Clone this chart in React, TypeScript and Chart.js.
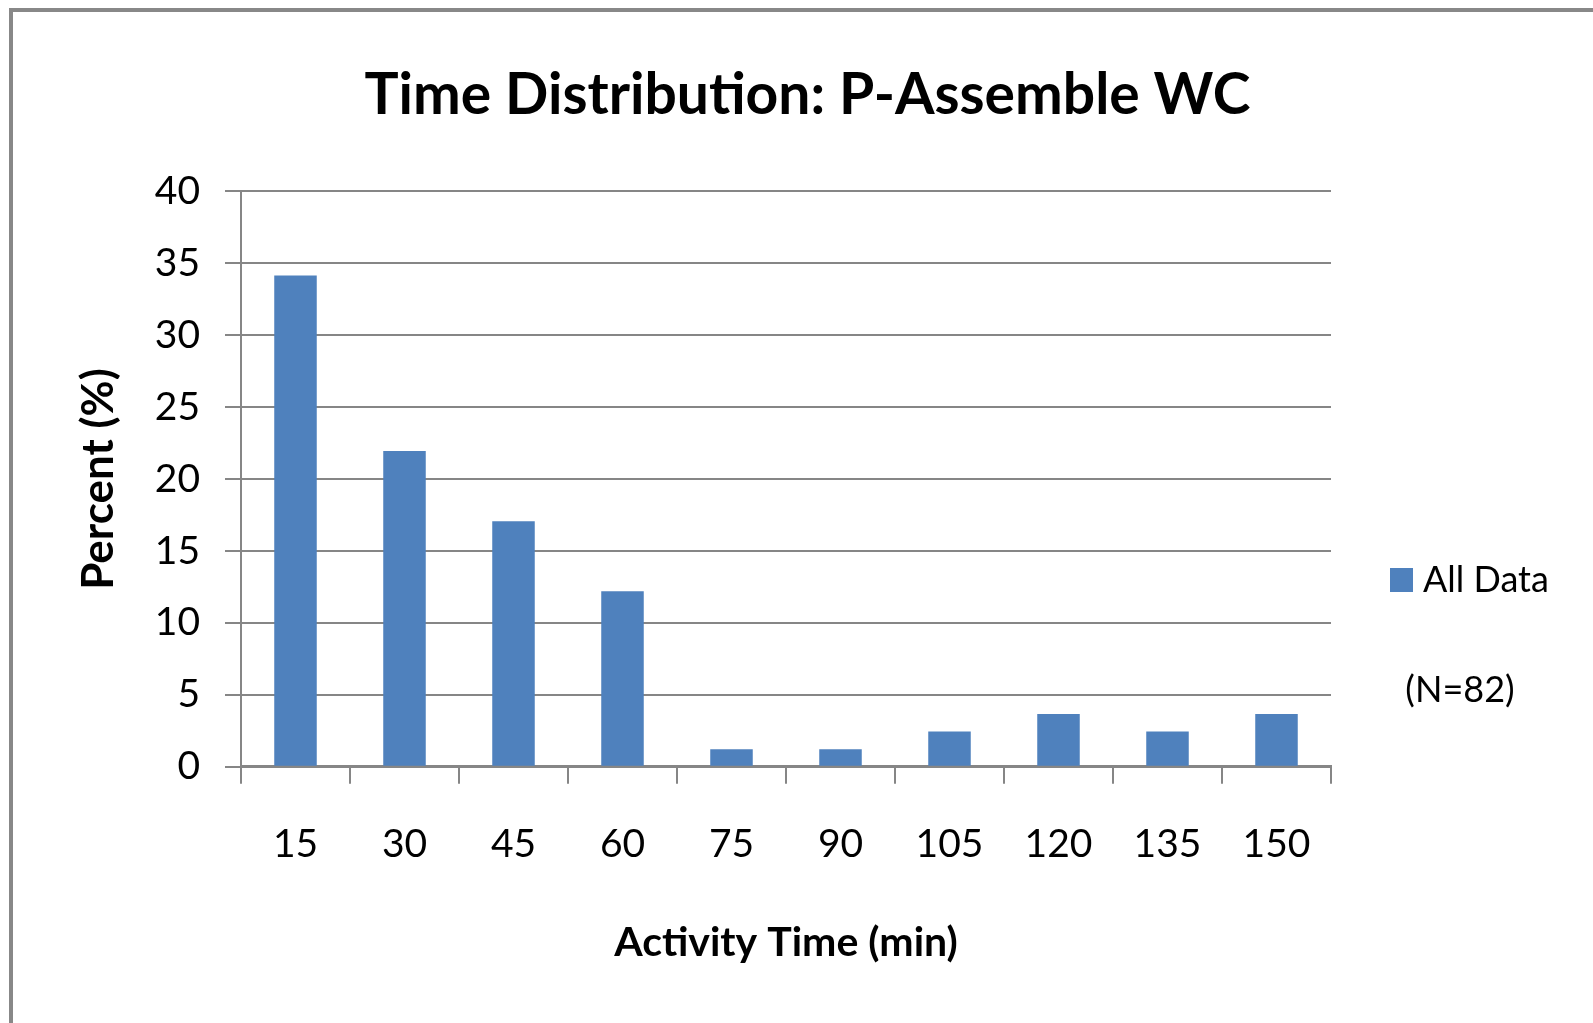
import React, { useEffect, useRef } from "react";
import { Chart, registerables } from "chart.js";

Chart.register(...registerables);

const chartTitle = "Time Distribution: P-Assemble WC";
const xAxisTitle = "Activity Time (min)";
const yAxisTitle = "Percent (%)";
const seriesLabel = "All Data";
const sampleNote = "(N=82)";

const categories = ["15", "30", "45", "60", "75", "90", "105", "120", "135", "150"];
const percentValues = [34.15, 21.95, 17.07, 12.2, 1.22, 1.22, 2.44, 3.66, 2.44, 3.66];
const yTickValues = [0, 5, 10, 15, 20, 25, 30, 35, 40];

const BAR_COLOR = "#4F81BD";
const GRID_COLOR = "#868686";
const FONT = "Lato";

const W = 1593;
const H = 1023;

export default function App() {
  const canvasRef = useRef<HTMLCanvasElement | null>(null);

  useEffect(() => {
    document.body.style.margin = "0";
    const canvas = canvasRef.current;
    if (!canvas) return;

    const legendPlugin = {
      id: "customLegend",
      afterDraw(chart: any) {
        const ctx = chart.ctx;
        const ds = chart.data.datasets[0];
        ctx.save();
        ctx.fillStyle = ds.backgroundColor;
        ctx.fillRect(1390, 568, 23, 24);
        ctx.fillStyle = "#000";
        ctx.font = `36px ${FONT}`;
        ctx.textBaseline = "middle";
        ctx.textAlign = "left";
        ctx.fillText(ds.label, 1423, 580);
        ctx.textAlign = "center";
        ctx.fillText(sampleNote, 1460, 690);
        ctx.restore();
      },
    };

    const chart = new Chart(canvas, {
      type: "bar",
      data: {
        labels: categories,
        datasets: [
          {
            label: seriesLabel,
            data: percentValues,
            backgroundColor: BAR_COLOR,
            borderWidth: 0,
            barPercentage: 0.39,
            categoryPercentage: 1,
          },
        ],
      },
      options: {
        animation: false,
        responsive: false,
        maintainAspectRatio: false,
        devicePixelRatio: 1,
        layout: { padding: { top: 0, left: 22, right: 0, bottom: 0 } },
        plugins: {
          legend: { display: false },
          tooltip: { enabled: false },
          title: {
            display: true,
            text: chartTitle,
            color: "#000",
            font: { family: FONT, size: 57, weight: "bold" },
            padding: { top: 61, bottom: 62 },
          },
        },
        scales: {
          x: {
            offset: true,
            grid: {
              display: true,
              drawOnChartArea: false,
              drawTicks: true,
              tickLength: 17,
              color: GRID_COLOR,
              lineWidth: 2,
              offset: true,
            },
            border: { display: true, color: GRID_COLOR, width: 3 },
            ticks: {
              color: "#000",
              font: { family: FONT, size: 39 },
              padding: 37,
              maxRotation: 0,
              autoSkip: false,
            },
            title: {
              display: true,
              text: xAxisTitle,
              color: "#000",
              font: { family: FONT, size: 41, weight: "bold" },
              padding: { top: 0, bottom: 56 },
            },
            afterFit: (s: any) => {
              s.height = H - 766.7;
            },
          },
          y: {
            min: 0,
            max: 40,
            afterBuildTicks: (s: any) => {
              s.ticks = yTickValues.map((v) => ({ value: v }));
            },
            grid: {
              color: GRID_COLOR,
              lineWidth: 2,
              tickLength: 16,
              drawTicks: true,
            },
            border: { display: true, color: GRID_COLOR, width: 2 },
            ticks: {
              color: "#000",
              font: { family: FONT, size: 39 },
              padding: 25,
            },
            title: {
              display: true,
              text: yAxisTitle,
              color: "#000",
              font: { family: FONT, size: 44, weight: "bold" },
              padding: { top: 50, bottom: 0 },
            },
            afterFit: (s: any) => {
              s.width = 219;
            },
          },
          legendSpace: {
            type: "linear",
            position: "right",
            display: true,
            grid: { display: false, drawTicks: false },
            border: { display: false },
            ticks: { display: false },
            afterFit: (s: any) => {
              s.width = W - 1331;
            },
          },
        },
      },
      plugins: [legendPlugin],
    } as any);

    return () => {
      chart.destroy();
    };
  }, []);

  return (
    <div
      style={{
        position: "fixed",
        left: 0,
        top: 0,
        width: W,
        height: H,
        background: "#fff",
        overflow: "hidden",
      }}
    >
      <canvas
        ref={canvasRef}
        width={W}
        height={H}
        style={{ position: "absolute", left: 0, top: 0, width: W, height: H }}
      />
      <div
        style={{
          position: "absolute",
          left: 9,
          top: 8,
          width: W + 50,
          height: H + 50,
          borderLeft: `4px solid #888888`,
          borderTop: `4px solid #888888`,
          pointerEvents: "none",
        }}
      />
    </div>
  );
}
